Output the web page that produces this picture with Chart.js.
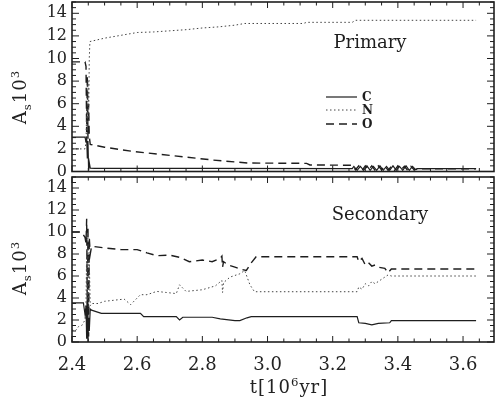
<!DOCTYPE html>
<html>
<head>
<meta charset="utf-8">
<script src="https://cdn.jsdelivr.net/npm/chart.js@4.4.1/dist/chart.umd.min.js"></script>
<style>
  body { margin: 0; background: #fff; }
  #wrap { position: relative; width: 496px; height: 405px; overflow: hidden; font-family: "DejaVu Serif", serif; color: #222; }
  canvas { position: absolute; left: 0; }
  #top { top: 0; }
  #bot { top: 165px; }
  .ytitle { position: absolute; left: 21px; font-size: 18px; letter-spacing: 1px; white-space: nowrap;
            transform: translate(-50%, -50%) rotate(-90deg); }
  .xtitle { position: absolute; left: 289px; top: 386px; font-size: 18px; letter-spacing: 1px; white-space: nowrap;
            transform: translate(-50%, -50%); }
  sub, sup { font-size: 65%; }
</style>
</head>
<body>
<div id="wrap">
  <canvas id="top" width="496" height="182"></canvas>
  <canvas id="bot" width="496" height="240"></canvas>
  <div class="ytitle" style="top:97px">A<sub>s</sub>10<sup>3</sup></div>
  <div class="ytitle" style="top:268px">A<sub>s</sub>10<sup>3</sup></div>
  <div class="xtitle">t[10<sup>6</sup>yr]</div>
</div>
<script>
// ---- data (time in 10^6 yr, abundance x 10^3) ----
// primary star
var tCp = [2.4, 2.44, 2.443, 2.445, 2.447, 2.449, 2.451, 2.453, 2.456, 2.47, 2.8, 3.26,
           3.265, 3.275, 3.285, 3.295, 3.305, 3.315, 3.325, 3.335, 3.345, 3.355, 3.365, 3.375, 3.385, 3.395, 3.405, 3.415, 3.425, 3.435, 3.445, 3.455, 3.46, 3.64];
var cP  = [3.05, 3.05, 2.6, 3.1, 1.2, 2.7, 0.1, 0.8, 0.3, 0.27, 0.27, 0.25,
           0.45, 0.1, 0.45, 0.1, 0.5, 0.1, 0.45, 0.1, 0.5, 0.1, 0.45, 0.1, 0.5, 0.1, 0.45, 0.1, 0.5, 0.1, 0.45, 0.15, 0.25, 0.25];

var tNp = [2.4, 2.44, 2.443, 2.445, 2.447, 2.449, 2.451, 2.453, 2.455, 2.5, 2.55, 2.6, 2.65, 2.7, 2.75, 2.8, 2.85, 2.9, 2.93, 3.11, 3.12, 3.26, 3.27, 3.64];
var nP  = [2.0, 2.0, 2.6, 5.5, 3.0, 8.0, 4.5, 10.0, 11.5, 11.8, 12.05, 12.3, 12.35, 12.45, 12.55, 12.7, 12.8, 12.95, 13.1, 13.1, 13.2, 13.2, 13.38, 13.38];

var tOp = [2.4, 2.44, 2.443, 2.445, 2.447, 2.449, 2.451, 2.453, 2.456, 2.5, 2.59, 2.71, 2.83, 2.94, 3.12, 3.13, 3.26,
           3.27, 3.28, 3.29, 3.30, 3.31, 3.32, 3.33, 3.34, 3.35, 3.36, 3.37, 3.38, 3.39, 3.40, 3.41, 3.42, 3.43, 3.44, 3.45, 3.46, 3.64];
var oP  = [9.7, 9.7, 9.3, 3.5, 8.5, 2.9, 6.0, 3.1, 2.4, 2.15, 1.76, 1.4, 1.02, 0.75, 0.72, 0.58, 0.55,
           0.15, 0.5, 0.1, 0.5, 0.15, 0.5, 0.1, 0.5, 0.15, 0.5, 0.1, 0.45, 0.1, 0.5, 0.15, 0.45, 0.1, 0.45, 0.15, 0.25, 0.25];

// secondary star
var tCs = [2.4, 2.435, 2.44, 2.443, 2.445, 2.447, 2.449, 2.451, 2.453, 2.456, 2.46, 2.49, 2.61, 2.62, 2.72, 2.73, 2.74, 2.83, 2.855, 2.9, 2.915, 2.937, 2.95, 3.275, 3.28, 3.3, 3.32, 3.34, 3.375, 3.38, 3.64];
var cS  = [3.55, 3.55, 2.5, 3.3, 0.3, 3.8, 0.0, 2.2, 1.0, 3.0, 2.9, 2.6, 2.6, 2.3, 2.3, 2.0, 2.25, 2.25, 2.1, 1.95, 1.95, 2.2, 2.3, 2.3, 1.75, 1.7, 1.55, 1.7, 1.75, 1.94, 1.94];

var tNs = [2.4, 2.41, 2.42, 2.43, 2.44, 2.443, 2.445, 2.447, 2.449, 2.451, 2.453, 2.456, 2.46, 2.48, 2.5, 2.53, 2.56, 2.58, 2.61, 2.63, 2.66, 2.69, 2.72, 2.73, 2.75, 2.8, 2.84, 2.86, 2.862, 2.865, 2.885, 2.915, 2.93, 2.946, 2.96,
           3.275, 3.28, 3.29, 3.30, 3.31, 3.32, 3.33, 3.35, 3.37, 3.38, 3.64];
var nS  = [1.1, 1.0, 1.4, 1.5, 2.0, 3.5, 8.5, 2.5, 9.5, 3.0, 7.5, 3.3, 3.5, 3.5, 3.7, 3.8, 3.9, 3.4, 4.3, 4.3, 4.6, 4.5, 4.4, 5.2, 4.6, 4.75, 5.1, 5.6, 4.5, 5.4, 5.9, 6.2, 6.5, 5.2, 4.57,
           4.57, 5.0, 4.8, 5.3, 5.1, 5.5, 5.3, 5.7, 6.1, 6.0, 6.0];

var tOs = [2.4, 2.43, 2.44, 2.443, 2.445, 2.447, 2.449, 2.451, 2.453, 2.456, 2.46, 2.5, 2.55, 2.6, 2.63, 2.66, 2.7, 2.73, 2.76, 2.8, 2.83, 2.855, 2.86, 2.862, 2.865, 2.88, 2.9, 2.92, 2.935, 2.95, 2.965,
           3.275, 3.28, 3.29, 3.30, 3.31, 3.32, 3.33, 3.34, 3.36, 3.37, 3.38, 3.64];
var oS  = [10.0, 10.0, 9.5, 9.0, 11.2, 3.0, 10.5, 0.5, 9.5, 8.0, 8.7, 8.55, 8.4, 8.4, 8.1, 7.85, 7.9, 7.7, 7.3, 7.45, 7.3, 7.6, 7.8, 6.8, 7.3, 7.0, 6.8, 6.6, 6.5, 7.2, 7.75,
           7.75, 7.3, 7.6, 7.0, 7.2, 6.9, 7.0, 6.8, 6.7, 6.3, 6.64, 6.64];

var species = ["C", "N", "O"];
var xTickStep = 0.2, yTickStep = 2;

var ink = '#1e1e1e';
var lineStyles = [
  { borderColor: ink, borderWidth: 1.2, borderDash: [] },
  { borderColor: '#444', borderWidth: 1, borderDash: [1.5, 2.5] },
  { borderColor: ink, borderWidth: 1.4, borderDash: [8, 5] }
];

function pts(ts, vs) {
  return ts.map(function (t, i) { return { x: t, y: vs[i] }; });
}

// frame, inward ticks, panel label, legend
var decoPlugin = {
  id: 'deco',
  afterDatasetsDraw: function (chart, args, o) {
    var ctx = chart.ctx, a = chart.chartArea, x = chart.scales.x, y = chart.scales.y;
    ctx.save();
    ctx.strokeStyle = ink;
    ctx.lineWidth = 1;
    ctx.setLineDash([]);
    ctx.beginPath();
    for (var i = 0; i <= 26; i++) {
      var px = x.getPixelForValue(2.4 + i * 0.05);
      if (px > a.right) break;
      var L = (i % 4 === 0) ? 6 : 3.5;
      ctx.moveTo(px, a.bottom); ctx.lineTo(px, a.bottom - L);
      ctx.moveTo(px, a.top); ctx.lineTo(px, a.top + L);
    }
    for (var j = 0; j <= 30; j++) {
      var py = y.getPixelForValue(j * 0.5);
      var M = (j % 4 === 0) ? 7 : 4;
      ctx.moveTo(a.left, py); ctx.lineTo(a.left + M, py);
      ctx.moveTo(a.right, py); ctx.lineTo(a.right - M, py);
    }
    ctx.stroke();
    ctx.lineWidth = 1.6;
    ctx.strokeRect(a.left, a.top, a.right - a.left, a.bottom - a.top);

    ctx.fillStyle = ink;
    ctx.font = '18px "DejaVu Serif"';
    ctx.textAlign = 'center';
    ctx.textBaseline = 'middle';
    ctx.fillText(o.label, a.left + o.lx, a.top + o.ly);

    if (o.legend) {
      var ly = [95, 108, 122];
      ctx.font = 'bold 12px "DejaVu Serif"';
      ctx.textAlign = 'left';
      for (var k = 0; k < species.length; k++) {
        var s = lineStyles[k];
        ctx.strokeStyle = s.borderColor;
        ctx.lineWidth = s.borderWidth;
        ctx.setLineDash(s.borderDash);
        ctx.beginPath();
        ctx.moveTo(a.left + 254, a.top + ly[k]);
        ctx.lineTo(a.left + 285, a.top + ly[k]);
        ctx.stroke();
        ctx.fillText(species[k], a.left + 290, a.top + ly[k] + 1);
      }
    }
    ctx.restore();
  }
};

function makePanel(id, series, deco, showX, pad) {
  var datasets = series.map(function (d, i) {
    return Object.assign({ label: species[i], data: d, pointRadius: 0, tension: 0, fill: false }, lineStyles[i]);
  });
  return new Chart(document.getElementById(id), {
    type: 'line',
    data: { datasets: datasets },
    plugins: [decoPlugin],
    options: {
      responsive: false,
      animation: false,
      layout: { padding: pad },
      plugins: { legend: { display: false }, tooltip: { enabled: false }, deco: deco },
      scales: {
        x: {
          type: 'linear', min: 2.4, max: 3.695,
          grid: { display: false, drawTicks: false }, border: { display: false },
          ticks: {
            display: showX, stepSize: xTickStep, includeBounds: false, maxRotation: 0, autoSkip: false,
            padding: 13, color: '#222', font: { family: 'DejaVu Serif', size: 18 },
            callback: function (v) { return v.toFixed(1); }
          },
          afterFit: function (s) { s.height = showX ? 63 : 0; }
        },
        y: {
          min: 0, max: 15,
          grid: { display: false, drawTicks: false }, border: { display: false },
          ticks: {
            stepSize: yTickStep, includeBounds: false, padding: 5, color: '#222',
            font: { family: 'DejaVu Serif', size: 16 }
          },
          afterFit: function (s) { s.width = 72; s.paddingTop = 0; s.paddingBottom = 0; }
        }
      }
    }
  });
}

makePanel('top', [pts(tCp, cP), pts(tNp, nP), pts(tOp, oP)],
  { label: 'Primary', lx: 298, ly: 41, legend: true }, false,
  { top: 2, right: 2, bottom: 10.5, left: 0 });

makePanel('bot', [pts(tCs, cS), pts(tNs, nS), pts(tOs, oS)],
  { label: 'Secondary', lx: 308, ly: 38, legend: false }, true,
  { top: 12, right: 2, bottom: 0, left: 0 });
</script>
</body>
</html>
